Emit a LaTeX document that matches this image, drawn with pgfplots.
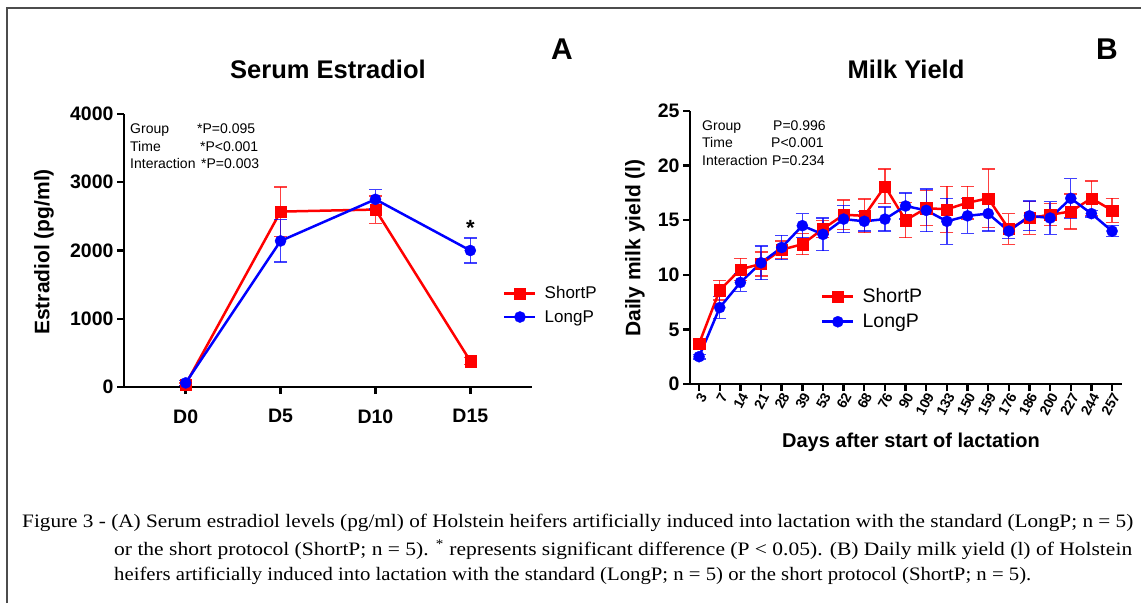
\documentclass[border=0pt]{standalone}
\usepackage{fontspec}
\setmainfont{Liberation Sans}
\newfontfamily\capfont{Liberation Serif}
\usepackage{graphicx}
\usepackage{pgfplots}
\usepackage{pgfplotstable}
\pgfplotsset{compat=1.18}

\definecolor{gpred}{RGB}{255,0,0}
\definecolor{gpblue}{RGB}{0,0,255}

% Serum estradiol, mean and SEM
\pgfplotstableread{
x mean err
0 40 20
1 2570 360
2 2600 200
3 380 50
}\estShort
\pgfplotstableread{
x mean err
0 60 40
1 2140 310
2 2750 140
3 2000 185
}\estLong

% Daily milk yield, mean and SEM
\pgfplotstableread{
x mean err
0 3.7 0.3
1 8.6 0.9
2 10.5 1.0
3 11.0 1.1
4 12.3 0.8
5 12.8 0.95
6 14.2 0.8
7 15.5 1.35
8 15.4 1.55
9 18.1 1.6
10 15.0 1.6
11 16.1 1.6
12 16.0 2.1
13 16.6 1.5
14 17.0 2.7
15 14.2 1.4
16 15.2 1.5
17 15.5 1.0
18 15.8 1.6
19 17.0 1.6
20 15.9 1.1
}\milkShort
\pgfplotstableread{
x mean err
0 2.5 0.2
1 7.0 1.0
2 9.3 0.8
3 11.1 1.55
4 12.5 1.1
5 14.5 1.1
6 13.7 1.5
7 15.1 1.25
8 14.9 0.9
9 15.1 1.1
10 16.3 1.2
11 15.9 1.95
12 14.9 2.1
13 15.4 1.6
14 15.6 1.6
15 14.0 0.65
16 15.4 1.35
17 15.2 1.5
18 17.0 1.8
19 15.6 0.3
20 14.0 0.5
}\milkLong

\newcommand{\fs}[1]{\fontsize{#1}{#1}\selectfont}

\pgfplotsset{
  gp/.style={
    scale only axis, clip=false,
    axis lines=left,
    axis line style={line width=2.6pt, -},
    tick align=outside, major tick length=7pt,
    tick style={line width=2.4pt, black},
    /pgf/number format/assume math mode=true,
    /pgf/number format/1000 sep={},
    yticklabel style={font=\bfseries\fs{19.5}},
    legend cell align=left,
    legend image code/.code={\draw[mark repeat=2,mark phase=2,#1] plot coordinates {(0pt,0pt) (15.5pt,0pt) (31pt,0pt)};},
  },
  sp/.style={gpred, line width=2.5pt, mark=square*, mark size=5.6pt, mark options={solid, line width=0.3pt},
    error bars/.cd, y dir=both, y explicit,
    error bar style={line width=1.3pt, gpred, opacity=0.75},
    error mark options={rotate=90, line width=1.3pt, mark size=6.5pt, gpred, opacity=0.75}},
  lp/.style={gpblue, line width=2.5pt, mark=*, mark size=5.6pt, mark options={solid, line width=0.3pt},
    error bars/.cd, y dir=both, y explicit,
    error bar style={line width=1.3pt, gpblue, opacity=0.75},
    error mark options={rotate=90, line width=1.3pt, mark size=6.5pt, gpblue, opacity=0.75}},
}

\begin{document}
\begin{tikzpicture}[x=1pt,y=1pt]
\useasboundingbox (0,0) rectangle (1141,603);
\draw[line width=2pt, black!70] (7,0) -- (7,595) -- (1141,595);

% ---- panel A
\begin{axis}[gp, at={(124pt,216pt)}, anchor=south west,
  width=408pt, height=273pt,
  xmin=-0.65, xmax=3.65, ymin=0, ymax=4000,
  xtick={0,1,2,3}, xticklabels={D0,D5,D10,D15},
  xticklabel style={font=\bfseries\fs{19.5}, yshift=-12pt},
  ytick={0,1000,2000,3000,4000},
  legend style={at={(rel axis cs:0.929,0.30)}, anchor=west, draw=none, fill=none,
    inner sep=0pt, row sep=6pt, column sep=6pt, font=\fs{17}, nodes={inner sep=2pt}},
]
\addplot[sp] table[x=x, y=mean, y error=err] {\estShort};
\addlegendentry{ShortP}
\addplot[lp] table[x=x, y=mean, y error=err] {\estLong};
\addlegendentry{LongP}
\node[font=\bfseries\fs{22}] at (axis cs:3,2330) {*};
\end{axis}

\node[anchor=base, font=\bfseries\fs{25.5}] at (328,524) {Serum Estradiol};
\node[anchor=base, font=\bfseries\fs{30}] at (562,543) {A};
\node[rotate=90, font=\bfseries\fs{21}] at (44,351) {Estradiol (pg/ml)};
\begin{scope}[every node/.style={anchor=base west, font=\fs{14}, inner sep=0pt}]
\node at (130,469) {Group};
\node at (130,451) {Time};
\node at (130,434) {Interaction};
\node at (197,469) {*P=0.095};
\node at (200,451) {*P<0.001};
\node at (201,434) {*P=0.003};
\end{scope}

% ---- panel B
\begin{axis}[gp, at={(690pt,219pt)}, anchor=south west,
  width=432pt, height=273pt,
  xmin=-0.44, xmax=20.48, ymin=0, ymax=25,
  xtick={0,...,20},
  xticklabels={3,7,14,21,28,39,53,62,68,76,90,109,133,150,159,176,186,200,227,244,257},
  xticklabel style={rotate=62, anchor=east, font=\bfseries\fs{14}, inner sep=0.5pt, yshift=-5pt},
  ytick={0,5,10,15,20,25},
  legend style={at={(rel axis cs:0.303,0.275)}, anchor=west, draw=none, fill=none,
    inner sep=0pt, row sep=6pt, column sep=6pt, font=\fs{19.5}, nodes={inner sep=2pt}},
]
\addplot[sp] table[x=x, y=mean, y error=err] {\milkShort};
\addlegendentry{ShortP}
\addplot[lp] table[x=x, y=mean, y error=err] {\milkLong};
\addlegendentry{LongP}
\end{axis}

\node[anchor=base, font=\bfseries\fs{25.5}] at (906,524) {Milk Yield};
\node[anchor=base, font=\bfseries\fs{30}] at (1107,543) {B};
\node[rotate=90, font=\bfseries\fs{21}] at (635,355) {Daily milk yield (l)};
\node[anchor=base, font=\bfseries\fs{20}] at (911,155) {Days after start of lactation};
\begin{scope}[every node/.style={anchor=base west, font=\fs{14}, inner sep=0pt}]
\node at (702,472) {Group};
\node at (702,455) {Time};
\node at (702,437) {Interaction};
\node at (773,472) {P=0.996};
\node at (771,455) {P<0.001};
\node at (772,437) {P=0.234};
\end{scope}

% ---- caption
\begin{scope}[every node/.style={anchor=base west, inner sep=0pt, font=\capfont\fs{19}}]
\node at (22,76) {\resizebox{1111pt}{\height}{Figure 3 - (A) Serum estradiol levels (pg/ml) of Holstein heifers artificially induced into lactation with the standard (LongP; n = 5)}};
\node at (114,48) {\resizebox{1018pt}{\height}{or the short protocol (ShortP; n = 5). \textsuperscript{*} represents significant difference (P < 0.05). (B) Daily milk yield (l) of Holstein}};
\node at (114,23) {\resizebox{917pt}{\height}{heifers artificially induced into lactation with the standard (LongP; n = 5) or the short protocol (ShortP; n = 5).}};
\end{scope}
\end{tikzpicture}
\end{document}
